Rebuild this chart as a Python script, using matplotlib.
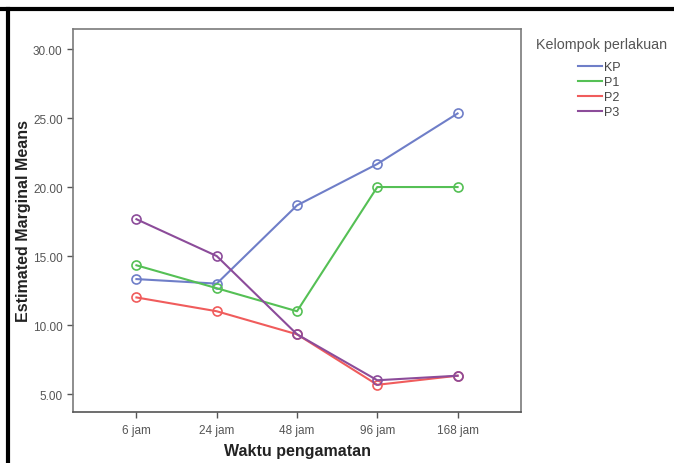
import matplotlib
matplotlib.use("Agg")
import matplotlib.pyplot as plt
from matplotlib.lines import Line2D

categories = ["6 jam", "24 jam", "48 jam", "96 jam", "168 jam"]
series_names = ["KP", "P1", "P2", "P3"]
kp = [13.33, 13.0, 18.67, 21.67, 25.33]
p1 = [14.33, 12.67, 11.0, 20.0, 20.0]
p2 = [12.0, 11.0, 9.33, 5.67, 6.33]
p3 = [17.67, 15.0, 9.33, 6.0, 6.33]
yticks = [5, 10, 15, 20, 25, 30]
colors = ["#6f7ec8", "#55c055", "#f05c5c", "#8c4c9a"]

plt.rcParams['font.family'] = ['Liberation Sans', 'DejaVu Sans']

W, H = 674, 464
fig = plt.figure(figsize=(W/100, H/100), dpi=100)
ax = fig.add_axes([73/W, 1-413/H, (521-73)/W, (413-30)/H])

x = list(range(len(categories)))
for vals, c in zip([kp, p1, p2, p3], colors):
    ax.plot(x, vals, color=c, lw=1.5, marker='o', ms=6.5, mfc='none', mec=c, mew=1.2)

ax.set_xlim(-0.79, 4.79)
ax.set_ylim(3.7, 31.45)
ax.set_xticks(x)
ax.set_xticklabels(categories)
ax.set_yticks(yticks)
ax.set_yticklabels([f"{v:.2f}" for v in yticks])
for s in ax.spines.values():
    s.set_color("#7a7a7a")
    s.set_linewidth(1.2)
ax.spines['bottom'].set_color("#555555")
ax.tick_params(direction='out', length=4.5, width=1, color="#555555",
               labelsize=8.5, labelcolor="#555555", pad=3)
ax.tick_params(axis='x', pad=4)
ax.set_xlabel("Waktu pengamatan", fontsize=11.5, fontweight='bold', color="#222222", labelpad=5)
ax.set_ylabel("Estimated Marginal Means", fontsize=11.5, fontweight='bold', color="#222222")
ax.yaxis.set_label_coords(-(73-31)/448, 0.5)

fig.text(536/W, 1-45/H, "Kelompok perlakuan", fontsize=10.3, color="#555555",
         ha='left', va='center')
handles = [Line2D([0], [0], color=c, lw=1.5) for c in colors]
leg = fig.legend(handles, series_names,
                 loc='upper left', bbox_to_anchor=(578/W, 1-62/H),
                 frameon=False, fontsize=9, borderpad=0, borderaxespad=0,
                 handlelength=1.9, handletextpad=0.2, labelspacing=0.24,
                 labelcolor="#444444")

# black outer frame (top and left)
fig.add_artist(Line2D([0, 1], [1-9.5/H, 1-9.5/H], color='black', lw=3, transform=fig.transFigure))
fig.add_artist(Line2D([7.5/W, 7.5/W], [0, 1-9.5/H], color='black', lw=3, transform=fig.transFigure))

fig.savefig("out.png", dpi=100)
